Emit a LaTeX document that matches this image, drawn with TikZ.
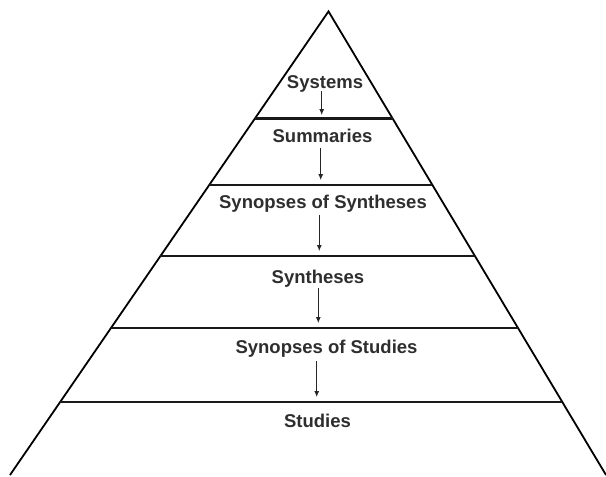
\documentclass[tikz,border=0pt]{standalone}
\usepackage{fontspec}
\setmainfont{Liberation Sans}
\usetikzlibrary{calc,arrows.meta}
\definecolor{txt}{HTML}{2E2E2E}
\tikzset{
  lvl/.style={anchor=base, font=\fontsize{18.5}{20}\selectfont\bfseries, text=txt, inner sep=0pt},
  edge/.style={line width=1.8pt, line join=miter},
  divider/.style={line width=2.6pt, draw=black!90},
  flow/.style={line width=0.8pt, draw=black!85, -{Latex[length=6pt,width=5pt]}}
}
\begin{document}
\begin{tikzpicture}[x=1pt,y=-1pt]
\useasboundingbox (0,0) rectangle (606,477);
\fill[white] (0,0) rectangle (606,477);
\coordinate (A) at (328.5,11.4);
\coordinate (BL) at (10,475);
\coordinate (BR) at (606,475);
\draw[edge] (BL) -- (A) -- (BR);
% dividers
\foreach \t/\n in {0.2310/1,0.3745/2,0.5276/3,0.6829/4,0.8425/5}{
  \coordinate (L\n) at ($(A)!\t!(BL)$);
  \coordinate (R\n) at ($(A)!\t!(BR)$);
  \draw[divider] (L\n) -- (R\n);
}
% labels
\node[lvl] (sys) at (325,88) {Systems};
\node[lvl] (sum) at (322.5,142.5) {Summaries};
\node[lvl] (sos) at (323,208) {Synopses of Syntheses};
\node[lvl] (syn) at (318,283) {Syntheses};
\node[lvl] (sost) at (326.5,353) {Synopses of Studies};
\node[lvl] (stu) at (317.5,427) {Studies};
% arrow ends
\coordinate (e1) at (321.7,115);
\coordinate (e2) at (320.7,180);
\coordinate (e3) at (319.3,251);
\coordinate (e4) at (318.3,323);
\coordinate (e5) at (316.7,397);
\draw[flow] ($(sys.base -| e1)+(0,3)$) -- (e1);
\draw[flow] ($(sum.base -| e2)+(0,5)$) -- (e2);
\draw[flow] ($(sos.base -| e3)+(0,7)$) -- (e3);
\draw[flow] ($(syn.base -| e4)+(0,5)$) -- (e4);
\draw[flow] ($(sost.base -| e5)+(0,8)$) -- (e5);
\end{tikzpicture}
\end{document}
